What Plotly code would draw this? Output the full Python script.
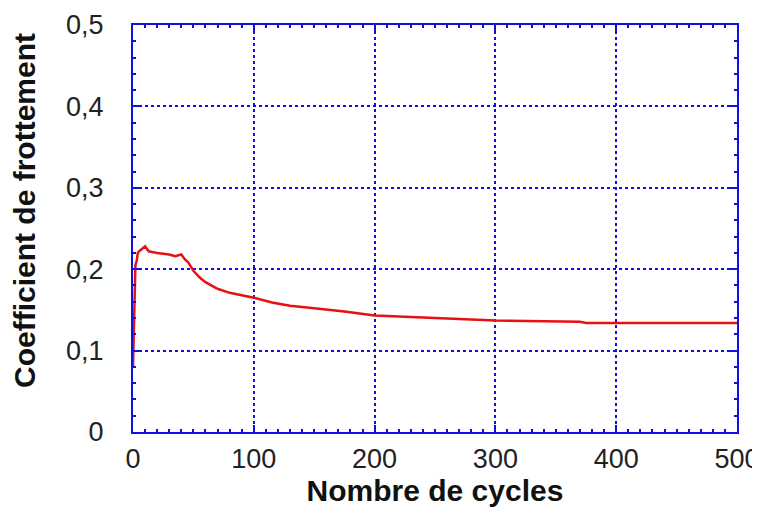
import plotly.graph_objects as go

# friction coefficient vs number of cycles
cycles = [0, 0.5, 1, 1.5, 2, 3, 4, 5, 7, 10, 13, 16, 20, 25, 30, 35, 40, 43, 46, 50,
          55, 60, 70, 80, 90, 100, 115, 130, 150, 175, 200, 230, 260, 300, 340,
          370, 375, 400, 450, 500]
friction = [0.08, 0.12, 0.17, 0.20, 0.205, 0.21, 0.22, 0.222, 0.224, 0.228, 0.222,
            0.221, 0.22, 0.219, 0.218, 0.216, 0.218, 0.212, 0.208, 0.198,
            0.19, 0.184, 0.176, 0.171, 0.168, 0.165, 0.159, 0.155, 0.152, 0.148,
            0.143, 0.141, 0.139, 0.137, 0.136, 0.1355, 0.134, 0.134, 0.134, 0.134]

blue = '#1010e0'
red = '#e81010'
font = 'Liberation Sans, Arial'

fig = go.Figure()
fig.add_trace(go.Scatter(x=cycles, y=friction, mode='lines',
                         line=dict(color=red, width=2.5), hoverinfo='skip'))

axis_style = dict(showline=True, linecolor=blue, linewidth=2, mirror='ticks',
                  ticks='inside', tickcolor=blue, ticklen=7, tickwidth=1.5,
                  showgrid=True, gridcolor=blue, gridwidth=1.5, griddash='dot',
                  zeroline=False, automargin=False,
                  tickfont=dict(family=font, size=27, color='#222'))

fig.update_xaxes(range=[0, 500], dtick=100, tick0=0, ticklabelstandoff=2,
                 minor=dict(dtick=10, ticks='inside', ticklen=3, tickcolor=blue, showgrid=False),
                 title=dict(text='<b>Nombre de cycles</b>', standoff=2,
                            font=dict(family=font, size=30, color='#111')),
                 **axis_style)
fig.update_yaxes(range=[0, 0.5], dtick=0.1, tick0=0, tickformat='.1~f', ticklabelstandoff=22,
                 minor=dict(dtick=0.02, ticks='inside', ticklen=3, tickcolor=blue, showgrid=False),
                 **axis_style)

# y title sits a little above the axis centre in the original, so use an annotation
fig.add_annotation(text='<b>Coefficient de frottement</b>', textangle=-90,
                   xref='paper', yref='paper', x=0, y=0.543, xanchor='center', yanchor='middle',
                   xshift=-108, showarrow=False, borderpad=0,
                   font=dict(family=font, size=30, color='#111'))

# page body adds an 8px offset, so the figure is 8px smaller than the window
fig.update_layout(width=752, height=500, separators=', ',
                  margin=dict(l=125, r=23, t=17, b=76),
                  plot_bgcolor='white', paper_bgcolor='white',
                  showlegend=False)

fig.write_html("out.html")
